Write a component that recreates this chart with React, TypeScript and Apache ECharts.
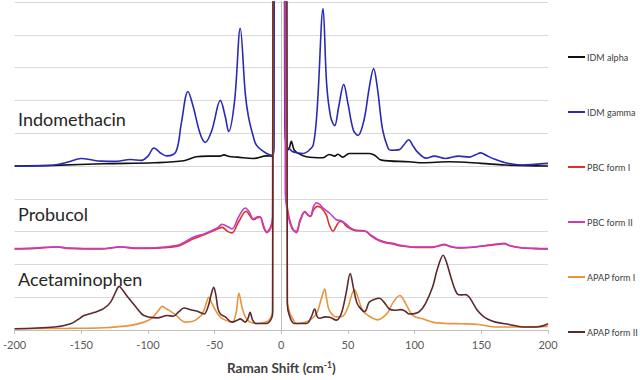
import React, { useEffect, useRef } from "react";
import * as echarts from "echarts";

// Raman shift (cm-1) vs. stacked intensity (arbitrary units, offset per compound)
const idmAlpha: [number, number][] = [
  [-200, 5.0], [-170, 5.02], [-133, 5.07], [-95, 5.1], [-73, 5.16], [-64, 5.28], [-55, 5.3], [-46, 5.3],
  [-43, 5.34], [-39, 5.29], [-33, 5.27], [-21, 5.23], [-11, 5.31], [-7, 5.3], [-5.8, 5.6], [-4.8, 40],
  [1, 40], [2.6, 6.2], [4, 5.6], [5.5, 5.5], [7.5, 5.75], [9.5, 5.5], [12, 5.4], [19, 5.28], [31, 5.25],
  [36, 5.35], [40, 5.3], [42.5, 5.36], [46, 5.27], [51, 5.38], [66, 5.38], [70, 5.33], [75, 5.18],
  [96, 5.13], [106, 5.1], [126, 5.13], [150, 5.08], [168, 5.03], [200, 5.0],
];

const idmGamma: [number, number][] = [
  [-200, 5.0], [-170, 5.03], [-160, 5.12], [-150, 5.23], [-140, 5.17], [-135, 5.15], [-125, 5.14],
  [-113, 5.2], [-105, 5.17], [-100, 5.3], [-95.5, 5.55], [-90, 5.38], [-86, 5.31], [-79, 5.44],
  [-75, 6.3], [-70, 7.27], [-66, 6.8], [-61, 6.0], [-57, 5.72], [-52, 6.1], [-45.7, 7.0], [-42, 6.5],
  [-39.5, 6.05], [-35, 7.0], [-30.8, 9.2], [-27, 7.2], [-24.6, 6.5], [-21, 5.9], [-18.6, 5.63],
  [-11, 5.38], [-6.5, 5.33], [-5.5, 5.6], [-4.5, 40], [1.5, 40], [3, 6], [4.5, 5.5], [5.5, 5.55],
  [8, 5.45], [12, 5.4], [16.4, 5.38], [20, 5.45], [24, 5.65], [27, 6.8], [31.3, 9.8], [34, 7.5],
  [37, 6.5], [40, 6.23], [43, 6.8], [46.8, 7.49], [50, 6.9], [54, 6.1], [57.5, 5.93], [62, 6.4],
  [66, 7.4], [69.2, 7.97], [72, 7.4], [76, 6.1], [80, 5.55], [82, 5.48], [88.6, 5.5], [92, 5.65],
  [95.5, 5.8], [99, 5.6], [102, 5.43], [108.5, 5.24], [114.7, 5.3], [123, 5.23], [133, 5.3],
  [141, 5.27], [146, 5.35], [149.5, 5.4], [154, 5.32], [158, 5.24], [168, 5.1], [180.6, 5.03],
  [190, 5.05], [200, 5.08],
];

const pbcForm1: [number, number][] = [
  [-200, 2.47], [-185, 2.49], [-168, 2.53], [-160, 2.49], [-135, 2.47], [-120, 2.53], [-110, 2.49],
  [-100, 2.49], [-88, 2.51], [-76, 2.58], [-66, 2.78], [-58, 2.9], [-48, 3.08], [-44.5, 3.13],
  [-40, 3.0], [-37, 2.96], [-32, 3.3], [-26.4, 3.62], [-23, 3.45], [-21, 3.36], [-18, 3.42],
  [-16, 3.44], [-13, 3.1], [-11, 3.0], [-8, 3.15], [-6.5, 3.45], [-5, 40], [2.5, 40], [4, 4],
  [6, 3.4], [9, 3.05], [11.4, 3.01], [14, 3.35], [17.7, 3.61], [20, 3.5], [22, 3.46], [24, 3.65],
  [27, 3.77], [30, 3.72], [33.8, 3.5], [36, 3.2], [38.8, 3.01], [41, 3.15], [43.8, 3.31], [46, 3.3],
  [48, 3.2], [51.3, 3.1], [56, 3.03], [60, 3.03], [63.7, 3.0], [67, 2.88], [72.4, 2.74], [78, 2.66],
  [83.6, 2.62], [90, 2.56], [101, 2.52], [113.5, 2.52], [118, 2.56], [122, 2.6], [127, 2.54],
  [133, 2.5], [146, 2.53], [155.7, 2.58], [162, 2.61], [167, 2.63], [172, 2.56], [180.6, 2.5],
  [190, 2.48], [200, 2.47],
];

const pbcForm2: [number, number][] = [
  [-200, 2.48], [-185, 2.5], [-168, 2.54], [-160, 2.5], [-135, 2.48], [-120, 2.54], [-110, 2.5],
  [-100, 2.5], [-88, 2.53], [-76, 2.61], [-66, 2.83], [-58, 2.93], [-48, 3.11], [-44.5, 3.22],
  [-40, 3.15], [-37, 3.08], [-32, 3.45], [-27, 3.72], [-24, 3.6], [-21, 3.38], [-18, 3.45],
  [-16, 3.45], [-13, 3.15], [-11, 2.97], [-8, 3.1], [-6.5, 3.4], [-5.3, 40], [1.5, 40], [3, 4.2],
  [5, 3.5], [8, 3.1], [11.4, 2.97], [14, 3.3], [17.7, 3.6], [20, 3.5], [22, 3.48], [24, 3.75],
  [26.4, 3.88], [29, 3.82], [31.3, 3.72], [36.3, 3.56], [41.3, 3.36], [45, 3.33], [48, 3.25],
  [51.3, 3.13], [56, 3.04], [60, 3.02], [63.7, 3.0], [67, 2.9], [72.4, 2.76], [78, 2.68],
  [83.6, 2.64], [90, 2.58], [101, 2.53], [113.5, 2.53], [118, 2.57], [122, 2.61], [127, 2.55],
  [133, 2.51], [146, 2.54], [155.7, 2.59], [162, 2.62], [167, 2.64], [172, 2.57], [180.6, 2.51],
  [190, 2.49], [200, 2.48],
];

const apapForm1: [number, number][] = [
  [-200, 0.04], [-160, 0.05], [-133, 0.07], [-113, 0.14], [-103, 0.24], [-97, 0.36], [-92, 0.6],
  [-89.3, 0.72], [-86, 0.64], [-83, 0.57], [-78.6, 0.44], [-75, 0.3], [-72, 0.24], [-67, 0.26],
  [-64.4, 0.3], [-60, 0.45], [-58, 0.6], [-56, 0.85], [-54.5, 1.0], [-52.5, 0.85], [-50, 0.65],
  [-47, 0.45], [-43.8, 0.34], [-37, 0.24], [-34, 0.5], [-31.8, 1.12], [-29.5, 0.7], [-27, 0.4],
  [-23.4, 0.24], [-18.6, 0.2], [-11, 0.25], [-8, 0.38], [-6.5, 0.6], [-5, 40], [2.8, 40],
  [4.5, 0.9], [6.5, 0.5], [8.5, 0.35], [11.5, 0.2], [19, 0.25], [24, 0.38], [27, 0.55], [30, 0.95],
  [32.6, 1.25], [34, 0.95], [36, 0.6], [41.3, 0.4], [46, 0.42], [50, 0.7], [53, 1.1], [55, 1.22],
  [57, 1.05], [61, 0.6], [66, 0.42], [72.4, 0.31], [76, 0.38], [80, 0.54], [84, 0.85], [89, 1.05],
  [92, 0.9], [94, 0.75], [98.6, 0.44], [106, 0.34], [113.5, 0.24], [123, 0.2], [135, 0.19],
  [148, 0.17], [161, 0.09], [181, 0.09], [200, 0.11],
];

const apapForm2: [number, number][] = [
  [-200, 0.04], [-170, 0.09], [-158, 0.19], [-152, 0.33], [-148, 0.44], [-140, 0.54], [-133, 0.66],
  [-128, 0.85], [-124, 1.18], [-121.6, 1.33], [-119, 1.22], [-116, 1.05], [-113, 0.9], [-108, 0.65],
  [-103, 0.44], [-93, 0.37], [-85.6, 0.44], [-81, 0.42], [-77, 0.55], [-73, 0.67], [-68, 0.62],
  [-63, 0.57], [-58, 0.49], [-55, 0.7], [-52.5, 1.1], [-50.7, 1.3], [-49, 1.05], [-47.5, 0.65],
  [-45.7, 0.49], [-42, 0.4], [-37, 0.24], [-33, 0.3], [-30.8, 0.34], [-27, 0.24], [-25, 0.35],
  [-23.4, 0.54], [-21.5, 0.3], [-19, 0.2], [-11, 0.2], [-8, 0.3], [-6.5, 0.5], [-5.2, 40], [3, 40],
  [4.5, 0.8], [6, 0.45], [9.7, 0.2], [19, 0.2], [22.5, 0.4], [25, 0.64], [27, 0.4], [29, 0.36],
  [33, 0.4], [36.3, 0.39], [41.3, 0.3], [45, 0.5], [48.5, 1.1], [51.7, 1.72], [54, 1.3], [56.5, 0.85],
  [58.7, 0.69], [62.5, 0.56], [66, 0.85], [70, 0.94], [73.6, 0.97], [77, 0.85], [81, 0.64], [85, 0.6],
  [89.8, 0.62], [93, 0.57], [96, 0.49], [100, 0.5], [103.5, 0.56], [108, 0.8], [113.4, 1.3],
  [117, 1.85], [121.4, 2.28], [124, 2.05], [128, 1.5], [132, 1.1], [135, 1.07], [138.3, 1.08],
  [141, 1.0], [143.3, 0.85], [147, 0.6], [150.8, 0.44], [155, 0.33], [160.7, 0.24], [170.7, 0.17],
  [183, 0.09], [193, 0.1], [200, 0.19],
];

const seriesNames = ["IDM alpha", "IDM gamma", "PBC form I", "PBC form II", "APAP form I", "APAP form II"];
const seriesData = [idmAlpha, idmGamma, pbcForm1, pbcForm2, apapForm1, apapForm2];
const seriesColors = ["#111111", "#2a2ab4", "#e0302c", "#c83cc0", "#e8943e", "#5c2a2e"];

const groupLabels = ["Indomethacin", "Probucol", "Acetaminophen"];
const groupLabelY = [121, 216, 281];

const FONT = "Lato, 'Noto Sans', sans-serif";

export default function App() {
  const ref = useRef<HTMLDivElement>(null);
  useEffect(() => {
    if (!ref.current) return;
    const chart = echarts.init(ref.current, undefined, { renderer: "svg" });
    chart.setOption({
      animation: false,
      backgroundColor: "#ffffff",
      textStyle: { fontFamily: FONT },
      grid: { left: 10, right: 92, top: 2, bottom: 47, containLabel: false },
      xAxis: {
        type: "value",
        min: -200,
        max: 200,
        interval: 50,
        axisLine: { show: true, lineStyle: { color: "#bfbfbf", width: 1 } },
        axisTick: { show: true, length: 4, lineStyle: { color: "#bfbfbf" } },
        axisLabel: { color: "#595959", fontSize: 11, margin: 9, fontFamily: FONT },
        splitLine: { show: false },
        name: "{a|Raman Shift (cm}{s|-1}{a|)}",
        nameLocation: "middle",
        nameGap: 30,
        nameTextStyle: {
          rich: {
            a: { fontSize: 13.5, fontWeight: "bold", color: "#404040", fontFamily: FONT, lineHeight: 16 },
            s: { fontSize: 8.5, fontWeight: "bold", color: "#404040", fontFamily: FONT, verticalAlign: "top", lineHeight: 16 },
          },
        },
      },
      yAxis: {
        type: "value",
        min: 0,
        max: 10,
        interval: 1,
        axisLabel: { show: false },
        axisTick: { show: false },
        axisLine: { show: true, onZero: true, lineStyle: { color: "#bfbfbf", width: 1 } },
        splitLine: { show: true, lineStyle: { color: "#d9d9d9", width: 1 } },
      },
      legend: {
        orient: "vertical",
        left: 568,
        top: 52,
        padding: 0,
        itemWidth: 17,
        itemHeight: 2,
        itemGap: 45,
        icon: "rect",
        data: seriesNames,
        textStyle: { fontSize: 9, color: "#404040", fontFamily: FONT, lineHeight: 10, padding: [0, 0, 0, -3] },
      },
      graphic: groupLabels.map((t, i) => ({
        type: "text",
        left: 18,
        top: groupLabelY[i] - 11,
        style: { text: t, fontSize: 18, fill: "#262626", fontFamily: FONT },
      })),
      series: seriesNames.map((name, i) => ({
        name,
        type: "line",
        data: seriesData[i],
        showSymbol: false,
        symbol: "none",
        smooth: 0.35,
        clip: true,
        color: seriesColors[i],
        itemStyle: { color: seriesColors[i] },
        lineStyle: { color: seriesColors[i], width: 1.6 },
        z: 2 + i,
      })),
    });
    return () => chart.dispose();
  }, []);
  return <div ref={ref} style={{ width: 640, height: 380, position: "absolute", left: 0, top: 0 }} />;
}
